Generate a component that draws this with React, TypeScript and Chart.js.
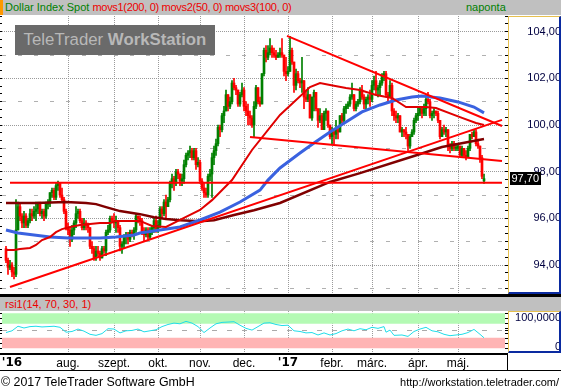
import React, { useEffect, useRef } from 'react';
import { Chart, registerables } from 'chart.js';

Chart.register(...registerables);

const FONT = "'Liberation Sans', Arial, Helvetica, sans-serif";
Chart.defaults.font.family = FONT;

// ===== daily candles: index 0 = 17 Jun 2016 ... index 239 = 18 May 2017 =====
const OPEN = [
  94.7, 94.2, 93.9, 94.0, 93.7, 93.6, 95.5, 96.5, 96.1, 95.8,
  96.1, 95.7, 95.9, 96.2, 96.1, 96.3, 96.4, 96.6, 96.2, 96.3,
  96.1, 96.6, 96.7, 97.1, 97.2, 96.9, 97.4, 97.5, 97.0, 96.8,
  96.3, 95.6, 95.5, 95.1, 95.5, 95.8, 96.2, 96.3, 95.9, 95.6,
  95.8, 95.7, 95.6, 94.8, 94.7, 94.3, 94.6, 94.5, 94.3, 94.7,
  94.6, 95.4, 95.5, 96.0, 95.9, 95.8, 95.9, 95.6, 94.8, 94.9,
  95.2, 95.3, 95.1, 95.4, 95.3, 95.5, 96.1, 96.0, 95.9, 95.4,
  95.3, 95.5, 95.2, 95.4, 95.6, 95.9, 95.5, 95.7, 96.4, 96.2,
  96.7, 96.5, 96.8, 97.5, 97.7, 97.5, 98.0, 97.9, 97.6, 97.7,
  98.3, 98.7, 98.8, 98.9, 98.6, 98.9, 98.3, 98.4, 97.6, 97.3,
  97.1, 97.0, 97.8, 97.9, 98.6, 98.9, 99.2, 99.9, 99.8, 100.4,
  100.6, 101.3, 100.8, 101.0, 101.8, 101.6, 101.5, 100.9, 101.3, 101.5,
  100.8, 100.6, 100.4, 100.3, 100.0, 100.8, 101.6, 101.0, 100.9, 102.2,
  103.2, 102.9, 103.1, 103.3, 103.1, 103.0, 102.9, 103.0, 103.1, 103.0,
  102.3, 102.2, 102.3, 103.2, 102.7, 101.7, 102.2, 101.9, 101.8, 101.9,
  101.2, 101.1, 101.3, 100.3, 101.2, 101.4, 100.7, 100.2, 100.4, 99.8,
  100.5, 100.6, 100.0, 99.5, 99.7, 99.6, 99.8, 99.7, 100.4, 100.2,
  100.7, 100.8, 100.9, 101.2, 101.3, 100.7, 100.9, 101.0, 101.5, 101.2,
  100.9, 101.1, 101.2, 101.1, 101.7, 101.9, 101.5, 101.6, 101.8, 102.1,
  102.2, 101.3, 101.2, 101.7, 100.6, 100.4, 100.3, 100.4, 99.7, 99.8,
  99.7, 99.6, 99.1, 99.5, 99.7, 100.2, 100.4, 100.5, 100.7, 100.5,
  100.7, 101.1, 101.0, 100.4, 100.5, 100.6, 100.5, 100.2, 99.5, 99.8,
  99.7, 99.8, 99.1, 99.0, 99.2, 99.0, 99.0, 99.1, 98.7, 99.0,
  98.7, 98.6, 99.0, 99.6, 99.5, 99.7, 99.2, 99.1, 98.6, 97.6,
];
const HIGH = [
  94.8, 94.3, 94.2, 94.1, 93.9, 96.8, 96.7, 96.6, 96.2, 96.3,
  96.2, 96.0, 96.4, 96.4, 96.5, 96.7, 96.7, 96.7, 96.4, 96.4,
  96.7, 96.8, 97.1, 97.3, 97.3, 97.5, 97.6, 97.5, 97.3, 96.9,
  96.4, 95.8, 95.6, 95.7, 95.9, 96.5, 96.4, 96.4, 96.0, 96.0,
  95.9, 95.8, 95.6, 95.0, 94.8, 94.8, 94.8, 94.6, 94.8, 94.8,
  95.5, 95.7, 96.1, 96.1, 96.2, 96.1, 95.9, 95.7, 95.0, 95.3,
  95.4, 95.4, 95.5, 95.5, 95.6, 96.2, 96.1, 96.1, 96.0, 95.6,
  95.6, 95.6, 95.6, 95.7, 96.0, 96.1, 95.9, 96.5, 96.5, 96.8,
  97.0, 96.9, 97.6, 97.9, 97.8, 98.1, 98.1, 97.9, 97.9, 98.5,
  98.8, 98.9, 99.1, 99.0, 99.0, 99.0, 98.6, 98.5, 97.7, 97.5,
  97.3, 97.9, 98.1, 98.8, 99.1, 99.4, 100.0, 100.0, 100.5, 100.8,
  101.5, 101.3, 101.2, 101.9, 102.0, 101.7, 101.5, 101.4, 101.8, 101.6,
  101.0, 100.9, 100.6, 100.4, 101.0, 101.7, 101.6, 101.2, 102.2, 103.3,
  103.4, 103.4, 103.7, 103.4, 103.3, 103.2, 103.1, 103.3, 103.7, 103.0,
  102.9, 102.5, 103.8, 103.3, 102.7, 102.4, 102.3, 102.0, 102.9, 101.9,
  101.5, 101.6, 101.3, 101.2, 101.5, 101.4, 100.7, 100.7, 100.5, 100.6,
  100.7, 100.6, 100.0, 99.9, 99.8, 100.2, 99.9, 100.4, 100.5, 100.8,
  100.9, 101.0, 101.3, 101.8, 101.3, 101.0, 101.1, 101.6, 101.7, 101.3,
  101.2, 101.3, 101.5, 101.9, 102.1, 102.3, 101.7, 101.9, 102.2, 102.3,
  102.3, 101.4, 101.9, 101.8, 100.7, 100.6, 100.5, 100.4, 99.9, 99.8,
  99.9, 99.6, 99.6, 99.8, 100.3, 100.5, 100.8, 100.8, 100.8, 100.9,
  101.3, 101.4, 101.1, 100.6, 100.7, 100.6, 100.6, 100.2, 99.9, 100.0,
  99.9, 99.8, 99.2, 99.3, 99.3, 99.2, 99.2, 99.1, 99.1, 99.0,
  98.9, 99.1, 99.6, 99.7, 99.8, 99.8, 99.4, 99.1, 98.7, 97.9,
];
const LOW = [
  94.1, 93.6, 93.8, 93.5, 93.4, 93.5, 95.5, 95.9, 95.6, 95.6,
  95.6, 95.6, 95.8, 95.9, 96.0, 95.9, 96.2, 96.1, 96.0, 95.9,
  96.0, 96.4, 96.5, 96.9, 96.8, 96.8, 97.2, 96.9, 96.7, 96.2,
  95.5, 95.3, 94.8, 95.0, 95.3, 95.6, 96.0, 95.8, 95.5, 95.5,
  95.5, 95.4, 94.7, 94.5, 94.2, 94.2, 94.4, 94.2, 94.3, 94.5,
  94.4, 95.3, 95.4, 95.8, 95.6, 95.4, 95.4, 94.6, 94.5, 94.7,
  94.9, 94.9, 95.0, 95.2, 95.1, 95.4, 95.8, 95.7, 95.3, 95.0,
  95.2, 95.1, 95.1, 95.3, 95.4, 95.4, 95.4, 95.6, 96.0, 96.1,
  96.0, 96.5, 96.7, 97.3, 97.2, 97.4, 97.7, 97.4, 97.4, 97.5,
  98.2, 98.5, 98.6, 98.5, 98.5, 98.1, 98.2, 97.5, 97.2, 96.9,
  96.9, 96.9, 97.6, 96.9, 98.3, 98.7, 99.1, 99.5, 99.7, 100.1,
  100.6, 100.6, 100.7, 100.9, 101.5, 101.3, 100.8, 100.8, 101.2, 100.6,
  100.4, 100.0, 100.0, 99.9, 99.5, 100.7, 100.9, 100.8, 100.9, 102.1,
  102.7, 102.8, 103.0, 102.9, 102.9, 102.8, 102.9, 102.9, 102.9, 102.1,
  101.9, 102.1, 102.3, 102.6, 101.4, 101.5, 101.8, 101.6, 101.4, 100.7,
  101.0, 101.0, 100.3, 100.2, 100.6, 100.6, 99.9, 100.1, 99.8, 99.8,
  100.2, 99.9, 99.4, 99.2, 99.2, 99.4, 99.4, 99.7, 100.1, 100.1,
  100.5, 100.7, 100.8, 101.1, 100.6, 100.6, 100.8, 100.9, 101.1, 100.7,
  100.7, 100.9, 100.8, 101.0, 101.5, 101.3, 101.2, 101.3, 101.7, 101.9,
  101.2, 101.0, 101.2, 100.4, 100.2, 100.1, 100.1, 99.7, 99.5, 99.5,
  99.4, 98.9, 99.0, 99.5, 99.6, 100.1, 100.2, 100.4, 100.3, 100.4,
  100.4, 100.9, 100.3, 100.2, 100.3, 100.4, 100.1, 99.4, 99.5, 99.6,
  99.5, 98.9, 98.8, 98.9, 98.9, 98.9, 98.9, 98.7, 98.6, 98.6,
  98.5, 98.6, 98.9, 99.4, 99.5, 99.1, 99.0, 98.4, 97.7, 97.5,
];
const CLOSE = [
  94.2, 93.9, 94.0, 93.7, 93.6, 95.5, 96.5, 96.1, 95.8, 96.1,
  95.7, 95.9, 96.2, 96.1, 96.3, 96.4, 96.6, 96.2, 96.3, 96.1,
  96.6, 96.7, 97.1, 97.2, 96.9, 97.4, 97.5, 97.0, 96.8, 96.3,
  95.6, 95.5, 95.1, 95.5, 95.8, 96.2, 96.3, 95.9, 95.6, 95.8,
  95.7, 95.6, 94.8, 94.7, 94.3, 94.6, 94.5, 94.3, 94.7, 94.6,
  95.4, 95.5, 96.0, 95.9, 95.8, 95.9, 95.6, 94.8, 94.9, 95.2,
  95.3, 95.1, 95.4, 95.3, 95.5, 96.1, 96.0, 95.9, 95.4, 95.3,
  95.5, 95.2, 95.4, 95.6, 95.9, 95.5, 95.7, 96.4, 96.2, 96.7,
  96.5, 96.8, 97.5, 97.7, 97.5, 98.0, 97.9, 97.6, 97.7, 98.3,
  98.7, 98.8, 98.9, 98.6, 98.9, 98.3, 98.4, 97.6, 97.3, 97.1,
  97.0, 97.8, 97.9, 98.6, 98.9, 99.2, 99.9, 99.8, 100.4, 100.6,
  101.3, 100.8, 101.0, 101.8, 101.6, 101.5, 100.9, 101.3, 101.5, 100.8,
  100.6, 100.4, 100.3, 100.0, 100.8, 101.6, 101.0, 100.9, 102.2, 103.2,
  102.9, 103.1, 103.3, 103.1, 103.0, 102.9, 103.0, 103.1, 103.0, 102.3,
  102.2, 102.3, 103.2, 102.7, 101.7, 102.2, 101.9, 101.8, 101.9, 101.2,
  101.1, 101.3, 100.3, 101.2, 101.4, 100.7, 100.2, 100.4, 99.8, 100.5,
  100.6, 100.0, 99.5, 99.7, 99.6, 99.8, 99.7, 100.4, 100.2, 100.7,
  100.8, 100.9, 101.2, 101.3, 100.7, 100.9, 101.0, 101.5, 101.2, 100.9,
  101.1, 101.2, 101.1, 101.7, 101.9, 101.5, 101.6, 101.8, 102.1, 102.2,
  101.3, 101.2, 101.7, 100.6, 100.4, 100.3, 100.4, 99.7, 99.8, 99.7,
  99.6, 99.1, 99.5, 99.7, 100.2, 100.4, 100.5, 100.7, 100.5, 100.7,
  101.1, 101.0, 100.4, 100.5, 100.6, 100.5, 100.2, 99.5, 99.8, 99.7,
  99.8, 99.1, 99.0, 99.2, 99.0, 99.0, 99.1, 98.7, 99.0, 98.7,
  98.6, 99.0, 99.6, 99.5, 99.7, 99.2, 99.1, 98.6, 97.8, 97.7,
];

// moving averages: [day index, value]
const MA200 = [
  [0, 96.66], [15, 96.66], [30, 96.7], [40, 96.66], [45, 96.61], [50, 96.48], [57, 96.31],
  [67, 96.18], [74, 96.05], [80, 95.97], [87, 95.92], [97, 95.88], [104, 95.92], [114, 96.14],
  [124, 96.35], [137, 96.66], [162, 97.56], [177, 97.94], [204, 98.67], [218, 99.06], [239, 99.4],
];
const MA100 = [
  [0, 95.5], [6, 95.37], [14, 95.29], [22, 95.2], [31, 95.16], [47, 95.16], [55, 95.2],
  [64, 95.29], [67, 95.37], [77, 95.5], [87, 95.63], [97, 95.93], [107, 96.27], [117, 96.7],
  [127, 97.21], [131, 97.64], [137, 98.16], [147, 98.8], [154, 99.23], [162, 99.7], [170, 100.13],
  [178, 100.56], [187, 100.86], [195, 101.07], [203, 101.2], [208, 101.24], [217, 101.16],
  [226, 100.99], [234, 100.77], [239, 100.52],
];
const MA50 = [
  [0, 94.64], [4, 94.64], [7, 94.69], [12, 94.73], [15, 94.86], [18, 95.07], [22, 95.2],
  [25, 95.41], [28, 95.54], [32, 95.63], [37, 95.71], [42, 95.76], [47, 95.8], [52, 95.8],
  [55, 95.89], [67, 95.89], [73, 95.67], [80, 95.63], [87, 95.93], [97, 96.36], [103, 96.78],
  [113, 97.64], [123, 98.93], [137, 100.43], [152, 101.63], [157, 101.8], [162, 101.72],
  [170, 101.59], [177, 101.5], [185, 101.29], [193, 101.16], [200, 100.77], [210, 100.77],
  [215, 100.73], [227, 100.34], [235, 100.09], [239, 100.0],
];

// hand-drawn trend lines: [day index, value]
const TREND_UP = [[2, 93.06], [248, 100.22]];
const TREND_DOWN = [[140.5, 103.82], [248, 99.96]];
const TREND_MID = [[122, 99.49], [248, 98.46]];
const SUPPORT = [[2, 97.53], [248, 97.53]];

// RSI(14): [day index, value]
const RSI = [
  [0, 45], [3, 50], [6, 63], [9, 58], [12, 62], [15, 63], [18, 61], [21, 62], [24, 63], [27, 60],
  [30, 46], [33, 48], [36, 55], [39, 49], [42, 40], [45, 37], [48, 42], [51, 56], [54, 55], [57, 44],
  [60, 50], [63, 51], [66, 55], [69, 47], [72, 50], [75, 53], [78, 62], [81, 68], [84, 72], [87, 70],
  [90, 77], [93, 72], [96, 62], [99, 45], [102, 58], [105, 70], [108, 74], [111, 75], [114, 76],
  [117, 66], [120, 57], [123, 52], [126, 62], [129, 72], [132, 73], [135, 68], [138, 65], [141, 66],
  [144, 50], [147, 48], [150, 44], [153, 45], [156, 38], [159, 44], [162, 38], [165, 42], [168, 50],
  [171, 55], [174, 50], [177, 56], [180, 53], [183, 60], [186, 57], [189, 62], [190, 46], [192, 52],
  [194, 37], [198, 38], [201, 34], [204, 48], [207, 55], [210, 60], [213, 50], [216, 47], [219, 40],
  [222, 36], [225, 38], [228, 40], [231, 45], [234, 54], [237, 40], [239, 30],
];
const RSI_OVERBOUGHT = [70, 100];
const RSI_OVERSOLD = [0, 30];

const MONTH_TICKS = [3, 31, 54, 76, 97, 119, 141, 163, 183, 206, 226];
const MONTH_LABELS = ["'16", 'aug.', 'szept.', 'okt.', 'nov.', 'dec.', "'17", 'febr.', 'márc.', 'ápr.', 'máj.'];
const PRICE_LABELS = [94, 96, 98, 100, 102, 104];
const PRICE_DASHED = [93, 95, 97, 99, 101, 103];
const RSI_LABELS = [0, 100];

// axis windows
const X_MIN = -2;
const X_MAX = 249.5;
const Y_MIN = 92.757;
const Y_MAX = 104.673;
const RSI_MIN = -13.43;
const RSI_MAX = 106.57;
const RSI_LBL_MIN = -20.69;
const RSI_LBL_MAX = 124.14;

const GREEN = '#008000';
const RED = '#ff0000';
const GRID = '#9a9a9a';

const up = (i: number) => CLOSE[i] >= OPEN[i];
const pts = (a: number[][]) => a.map(([x, y]) => ({ x, y }));
const fmt = (v: number, d: number) => v.toFixed(d).replace('.', ',');
const setTicks = (values: number[]) => (s: any) => {
  s.ticks = values.map((v) => ({ value: v }));
};
const fixSize = (w?: number, h?: number) => (s: any) => {
  if (w !== undefined) s.width = w;
  if (h !== undefined) s.height = h;
  s.paddingTop = 0;
  s.paddingBottom = 0;
  s.paddingLeft = 0;
  s.paddingRight = 0;
};
const isInt = (v: number) => Math.abs(v - Math.round(v)) < 1e-6;

const PRICE_MINOR: number[] = [];
for (let k = Math.ceil(Y_MIN * 3); k <= Math.floor(Y_MAX * 3); k++) PRICE_MINOR.push(k / 3);
const RSI_MINOR: number[] = [];
for (let k = 0; k <= 7; k++) RSI_MINOR.push((k * 100) / 7);
RSI_MINOR.push(50);
RSI_MINOR.sort((a, b) => a - b);

const lineDs = (data: number[][], color: string, width: number, order: number) => ({
  type: 'line' as const,
  data: pts(data),
  borderColor: color,
  borderWidth: width,
  pointRadius: 0,
  fill: false,
  tension: 0,
  order,
});

const lastPrice = {
  id: 'lastPrice',
  afterDraw(chart: any) {
    const { ctx, scales } = chart;
    const v = CLOSE[CLOSE.length - 1];
    const y = Math.round(scales.y.getPixelForValue(v));
    const x = scales.yR.left + 5;
    const text = fmt(v, 2);
    ctx.save();
    ctx.font = `11px ${FONT}`;
    const w = Math.ceil(ctx.measureText(text).width) + 3;
    ctx.fillStyle = '#000';
    ctx.fillRect(x, y - 7, w, 13);
    ctx.fillStyle = '#fff';
    ctx.textBaseline = 'middle';
    ctx.fillText(text, x + 1.5, y);
    ctx.restore();
  },
};

export default function App() {
  const mainRef = useRef<HTMLCanvasElement>(null);
  const rsiRef = useRef<HTMLCanvasElement>(null);

  useEffect(() => {
    const main = new Chart(mainRef.current as HTMLCanvasElement, {
      type: 'bar',
      data: {
        datasets: [
          {
            type: 'bar',
            data: LOW.map((l, i) => ({ x: i, y: [l, HIGH[i]] })),
            backgroundColor: (c: any) => (up(c.dataIndex) ? GREEN : RED),
            grouped: false,
            barPercentage: 1,
            categoryPercentage: 1,
            maxBarThickness: 1,
            order: 20,
          } as any,
          {
            type: 'bar',
            data: OPEN.map((o, i) => ({ x: i, y: [o, CLOSE[i]] })),
            backgroundColor: (c: any) => (up(c.dataIndex) ? GREEN : RED),
            grouped: false,
            barPercentage: 1,
            categoryPercentage: 1,
            maxBarThickness: 2,
            minBarLength: 1,
            order: 19,
          } as any,
          lineDs(MA200, '#800000', 2.5, 6),
          lineDs(MA100, '#3a62e0', 3, 5),
          lineDs(MA50, '#e00000', 2, 4),
          lineDs(TREND_UP, RED, 2, 1),
          lineDs(TREND_DOWN, RED, 2, 1),
          lineDs(TREND_MID, RED, 2, 1),
          lineDs(SUPPORT, RED, 2, 1),
        ] as any,
      },
      options: {
        animation: false,
        responsive: false,
        maintainAspectRatio: false,
        events: [],
        layout: { padding: 0 },
        plugins: { legend: { display: false }, tooltip: { enabled: false } },
        scales: {
          x: {
            type: 'linear',
            min: X_MIN,
            max: X_MAX,
            offset: false,
            position: 'bottom',
            afterBuildTicks: setTicks(MONTH_TICKS.slice(1)),
            ticks: { display: false },
            grid: { offset: false, drawTicks: false, color: GRID, lineWidth: 1 },
            border: { display: false, dash: [1, 1] },
            afterFit: fixSize(undefined, 0),
          },
          y: {
            type: 'linear',
            position: 'left',
            min: Y_MIN,
            max: Y_MAX,
            beginAtZero: false,
            afterBuildTicks: setTicks(PRICE_MINOR),
            ticks: { display: false },
            grid: {
              color: (c: any) => {
                const v = c.tick ? c.tick.value : NaN;
                return isInt(v) && PRICE_LABELS.includes(Math.round(v)) ? GRID : 'rgba(0,0,0,0)';
              },
              tickColor: '#000',
              tickLength: 2,
              drawTicks: true,
            },
            border: { display: false, dash: [1, 1] },
            afterFit: fixSize(2),
          },
          yOdd: {
            type: 'linear',
            position: 'left',
            min: Y_MIN,
            max: Y_MAX,
            beginAtZero: false,
            afterBuildTicks: setTicks(PRICE_DASHED),
            ticks: { display: false },
            grid: { color: '#b0b0b0', drawTicks: false },
            border: { display: false, dash: [4, 12] },
            afterFit: fixSize(0),
          },
          yR: {
            type: 'linear',
            position: 'right',
            min: Y_MIN,
            max: Y_MAX,
            beginAtZero: false,
            afterBuildTicks: setTicks(PRICE_MINOR),
            ticks: {
              autoSkip: false,
              callback: (v: any) => (isInt(v) && PRICE_LABELS.includes(Math.round(v)) ? fmt(v, 2) : ''),
              color: '#000040',
              font: { size: 11 },
              crossAlign: 'far',
              padding: 16,
            },
            grid: { drawOnChartArea: false, tickColor: '#000', tickLength: 3 },
            border: { display: false },
            afterFit: fixSize(56),
          },
        } as any,
      },
      plugins: [lastPrice],
    });

    const rsi = new Chart(rsiRef.current as HTMLCanvasElement, {
      type: 'line',
      data: {
        datasets: [
          {
            data: [{ x: X_MIN, y: RSI_OVERBOUGHT[1] }, { x: X_MAX, y: RSI_OVERBOUGHT[1] }],
            borderColor: 'rgba(0,0,0,0)', borderWidth: 0, pointRadius: 0,
            fill: '+1', backgroundColor: '#b4fab4', order: 10,
          },
          {
            data: [{ x: X_MIN, y: RSI_OVERBOUGHT[0] }, { x: X_MAX, y: RSI_OVERBOUGHT[0] }],
            borderColor: 'rgba(0,0,0,0)', borderWidth: 0, pointRadius: 0, fill: false, order: 10,
          },
          {
            data: [{ x: X_MIN, y: RSI_OVERSOLD[1] }, { x: X_MAX, y: RSI_OVERSOLD[1] }],
            borderColor: 'rgba(0,0,0,0)', borderWidth: 0, pointRadius: 0,
            fill: '+1', backgroundColor: '#ffb4b4', order: 10,
          },
          {
            data: [{ x: X_MIN, y: RSI_OVERSOLD[0] }, { x: X_MAX, y: RSI_OVERSOLD[0] }],
            borderColor: 'rgba(0,0,0,0)', borderWidth: 0, pointRadius: 0, fill: false, order: 10,
          },
          {
            data: pts(RSI),
            borderColor: '#20dde8', borderWidth: 1, pointRadius: 0, fill: false, tension: 0, order: 1,
          },
        ] as any,
      },
      options: {
        animation: false,
        responsive: false,
        maintainAspectRatio: false,
        events: [],
        layout: { padding: 0 },
        plugins: { legend: { display: false }, tooltip: { enabled: false } },
        scales: {
          x: {
            type: 'linear',
            min: X_MIN,
            max: X_MAX,
            offset: false,
            position: 'bottom',
            afterBuildTicks: setTicks(MONTH_TICKS),
            ticks: {
              autoSkip: false,
              maxRotation: 0,
              minRotation: 0,
              padding: 3,
              color: '#000',
              callback: (_v: any, i: number) => MONTH_LABELS[i],
              font: (c: any) =>
                MONTH_LABELS[c.index] && MONTH_LABELS[c.index].startsWith("'")
                  ? { family: "'DejaVu Sans', sans-serif", size: 12, weight: 'bold' }
                  : { family: FONT, size: 12 },
            },
            grid: {
              offset: false,
              drawTicks: false,
              color: (c: any) => (c.index === 0 ? 'rgba(0,0,0,0)' : GRID),
            },
            border: { display: false, dash: [1, 1] },
            afterFit: fixSize(undefined, 18),
          },
          y: {
            type: 'linear',
            position: 'left',
            min: RSI_MIN,
            max: RSI_MAX,
            afterBuildTicks: setTicks(RSI_MINOR),
            ticks: { display: false },
            grid: {
              color: (c: any) => (c.tick && c.tick.value === 50 ? '#aaaaaa' : 'rgba(0,0,0,0)'),
              tickColor: '#000',
              tickLength: 2,
            },
            border: { display: false, dash: [5, 10] },
            afterFit: fixSize(2),
          },
          yRt: {
            type: 'linear',
            position: 'right',
            weight: 0,
            min: RSI_MIN,
            max: RSI_MAX,
            afterBuildTicks: setTicks(RSI_MINOR),
            ticks: { display: false },
            grid: { drawOnChartArea: false, tickColor: '#000', tickLength: 3 },
            border: { display: false },
            afterFit: fixSize(3),
          },
          yR: {
            type: 'linear',
            position: 'right',
            weight: 1,
            min: RSI_LBL_MIN,
            max: RSI_LBL_MAX,
            afterBuildTicks: setTicks(RSI_LABELS),
            ticks: {
              autoSkip: false,
              callback: (v: any) => (v === 0 ? '0' : fmt(v, 4)),
              color: '#000040',
              font: { size: 11 },
              crossAlign: 'far',
              padding: 4,
            },
            grid: { display: false, drawTicks: false },
            border: { display: false },
            afterFit: fixSize(53),
          },
        } as any,
      },
    });

    return () => {
      main.destroy();
      rsi.destroy();
    };
  }, []);

  const abs = (o: any) => ({ position: 'absolute' as const, ...o });

  return (
    <div style={{ position: 'fixed', left: 0, top: 0, width: 561, height: 390, background: '#fff', overflow: 'hidden', fontFamily: FONT }}>
      {/* title bar */}
      <div style={abs({ left: 0, top: 0, width: 561, height: 15, background: '#c0c0c0' })} />
      <div style={abs({ left: 0, top: 0, width: 3, height: 15, background: '#ff9900' })} />
      <div style={abs({ left: 5, top: 0, height: 15, lineHeight: '15px', fontSize: 11, whiteSpace: 'nowrap' })}>
        <span style={{ color: '#008000' }}>Dollar Index Spot</span>{' '}
        <span style={{ color: '#ee0000', letterSpacing: '-0.3px' }}>movs1(200, 0) movs2(50, 0) movs3(100, 0)</span>
      </div>
      <div style={abs({ left: 466, top: 0, height: 15, lineHeight: '15px', fontSize: 11, color: '#008000' })}>naponta</div>

      {/* main price chart */}
      <canvas ref={mainRef} width={561} height={278} style={abs({ left: 0, top: 16, width: 561, height: 278 })} />
      <div style={abs({ left: 15, top: 25, width: 200, height: 30, background: '#6a6a6a', color: '#b8b8b8', fontSize: 16.8, lineHeight: '30px', textAlign: 'center', whiteSpace: 'nowrap' })}>
        TeleTrader <b>WorkStation</b>
      </div>
      <div style={abs({ left: 508, top: 16, width: 53, height: 278, boxSizing: 'border-box', borderLeft: '1px solid #e6c050', borderTop: '1px solid #e6c050', borderRight: '2px solid #0a2aa0', borderBottom: '2px solid #0a2aa0' })} />
      <div style={abs({ left: 0, top: 294, width: 561, height: 3, background: '#000' })} />

      {/* RSI panel */}
      <div style={abs({ left: 0, top: 297, width: 561, height: 14, background: '#c0c0c0' })} />
      <div style={abs({ left: 5, top: 297, height: 14, lineHeight: '14px', fontSize: 11, color: '#ee0000', whiteSpace: 'nowrap' })}>rsi1(14, 70, 30, 1)</div>
      <canvas ref={rsiRef} width={561} height={60} style={abs({ left: 0, top: 311, width: 561, height: 60 })} />
      <div style={abs({ left: 508, top: 311, width: 53, height: 42, boxSizing: 'border-box', borderLeft: '1px solid #e6c050', borderTop: '1px solid #e6c050', borderRight: '2px solid #0a2aa0', borderBottom: '2px solid #0a2aa0' })} />
      <div style={abs({ left: 0, top: 353, width: 508, height: 2, background: '#000' })} />
      <div style={abs({ left: 507, top: 353, width: 1, height: 17, background: '#000' })} />
      <div style={abs({ left: 0, top: 370, width: 561, height: 1, background: '#000' })} />

      {/* footer */}
      <div style={abs({ left: 1, top: 375, height: 14, lineHeight: '14px', fontSize: 12.4, color: '#000', whiteSpace: 'nowrap' })}>© 2017 TeleTrader Software GmbH</div>
      <div style={abs({ right: 2, top: 375, height: 14, lineHeight: '14px', fontSize: 11, color: '#000', whiteSpace: 'nowrap' })}>http://workstation.teletrader.com/</div>
    </div>
  );
}
